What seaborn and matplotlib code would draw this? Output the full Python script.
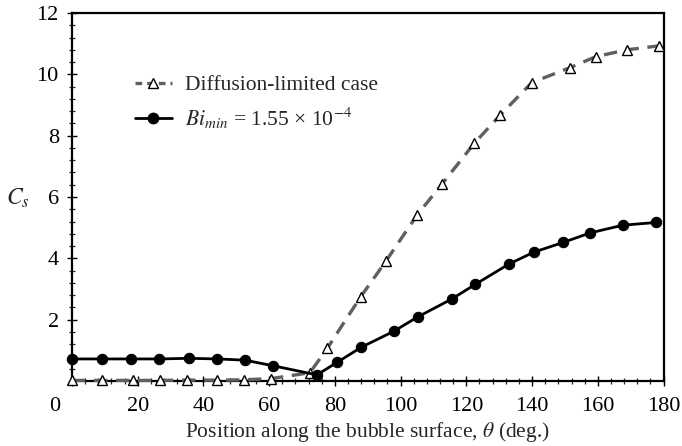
import matplotlib
matplotlib.use("Agg")
import matplotlib.pyplot as plt
import matplotlib.transforms as mtransforms
from matplotlib.ticker import MultipleLocator
from matplotlib.lines import Line2D
import seaborn as sns
import pandas as pd

# Surface concentration along the bubble surface
theta_diff = [0.0, 9.0, 18.5, 26.8, 35.0, 44.2, 52.4, 60.7, 72.4, 77.7, 87.8, 95.6,
              105.0, 112.5, 122.4, 130.3, 139.9, 151.6, 159.5, 168.9, 178.7]
cs_diff = [0.02, 0.02, 0.02, 0.02, 0.03, 0.03, 0.04, 0.08, 0.27, 1.07, 2.74, 3.92,
           5.41, 6.41, 7.75, 8.67, 9.73, 10.22, 10.58, 10.80, 10.93]

theta_bi = [0.0, 9.0, 18.0, 26.6, 35.6, 44.2, 52.6, 61.1, 74.5, 80.7, 88.0, 97.9,
            105.2, 115.5, 122.7, 132.9, 140.5, 149.5, 157.7, 167.6, 177.7]
cs_bi = [0.72, 0.72, 0.72, 0.72, 0.74, 0.72, 0.68, 0.50, 0.20, 0.61, 1.10, 1.62,
         2.09, 2.67, 3.15, 3.81, 4.20, 4.52, 4.83, 5.08, 5.17]

label_diff = "Diffusion-limited case"
label_bi = r"$Bi_{min}$ = 1.55 × 10$^{-4}$"

df_diff = pd.DataFrame({"theta": theta_diff, "cs": cs_diff})
df_bi = pd.DataFrame({"theta": theta_bi, "cs": cs_bi})

sns.set_theme(style="white")
plt.rcParams["font.family"] = ["Liberation Serif", "DejaVu Serif"]
plt.rcParams["mathtext.fontset"] = "stix"

fig = plt.figure(figsize=(6.82, 4.46), dpi=100)
ax = fig.add_axes([0.1056, 0.1457, 0.8673, 0.8252])

gray = "#606060"
sns.lineplot(data=df_diff, x="theta", y="cs", ax=ax, sort=False, color=gray,
             linewidth=2.4, dashes=False, marker="^", markersize=7.5,
             markerfacecolor="white", markeredgecolor="black", markeredgewidth=1.0,
             clip_on=False, zorder=3)
ax.lines[-1].set_dashes([4.0, 2.6])
sns.lineplot(data=df_bi, x="theta", y="cs", ax=ax, sort=False, color="black",
             linewidth=2.0, marker="o", markersize=7.5, markeredgecolor="black",
             clip_on=False, zorder=4)

ax.set_xlim(0, 180)
ax.set_ylim(0, 12)
ax.set_xticks(list(range(0, 181, 20)))
ax.set_yticks(list(range(2, 13, 2)))
ax.xaxis.set_minor_locator(MultipleLocator(4))
ax.yaxis.set_minor_locator(MultipleLocator(0.4))
ax.tick_params(which="major", direction="inout", length=7, width=1.0,
               labelsize=16, colors="black", bottom=True, left=True, top=False, right=False)
ax.tick_params(which="minor", direction="inout", length=5, width=0.9,
               bottom=True, left=True, top=False, right=False)
ax.tick_params(axis="x", pad=8)
ax.tick_params(axis="y", pad=6)
# shift the origin label left, under the y tick labels
first = ax.get_xticklabels()[0]
first.set_transform(first.get_transform() + mtransforms.ScaledTranslation(-0.175, 0, fig.dpi_scale_trans))

for s in ax.spines.values():
    s.set_color("black")
    s.set_linewidth(1.6)

ax.set_xlabel(r"Position along the bubble surface, $\theta$ (deg.)", fontsize=15.5, labelpad=3)
ax.set_ylabel(r"$C_s$", fontsize=17, rotation=0, labelpad=0)
ax.yaxis.set_label_coords(-0.092, 0.465)

handles = [
    Line2D([], [], color=gray, linewidth=2.4, dashes=[2.0, 1.5], marker="^", markersize=7.5,
           markerfacecolor="white", markeredgecolor="black", markeredgewidth=1.0),
    Line2D([], [], color="black", linewidth=2.0, marker="o", markersize=7.5),
]
ax.legend(handles, [label_diff, label_bi], loc="upper left", bbox_to_anchor=(0.074, 0.883),
          frameon=False, fontsize=15.5, handlelength=1.7, handletextpad=0.6, labelspacing=0.45)

fig.savefig("out.png", dpi=100)
